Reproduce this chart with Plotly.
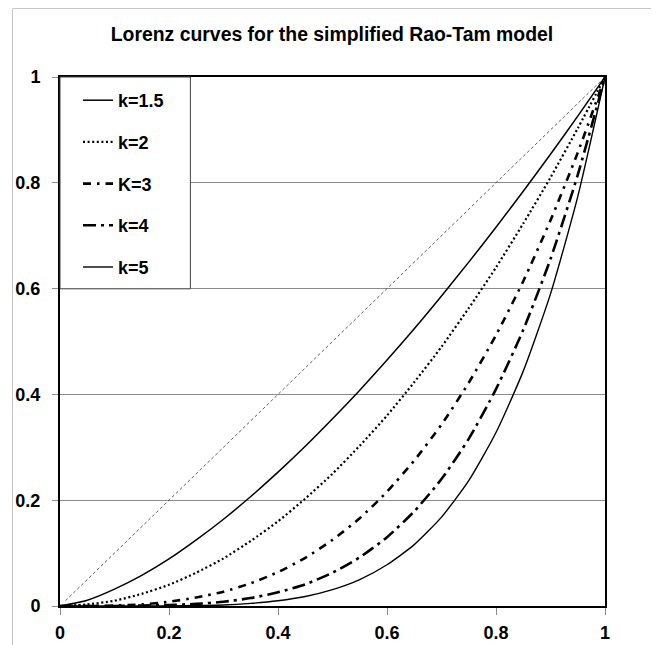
import plotly.graph_objects as go

# Share of population (x) and Lorenz curve values (y)
p = [0.0, 0.05, 0.1, 0.15, 0.2, 0.25, 0.3, 0.35, 0.4, 0.45, 0.5,
     0.55, 0.6, 0.65, 0.7, 0.75, 0.8, 0.85, 0.9, 0.95, 1.0]

k15 = [0.0, 0.011, 0.032, 0.058, 0.089, 0.125, 0.164, 0.207, 0.253, 0.302, 0.354,
       0.408, 0.465, 0.524, 0.586, 0.650, 0.716, 0.784, 0.854, 0.926, 1.0]
k2 = [0.0, 0.003, 0.010, 0.023, 0.040, 0.063, 0.090, 0.123, 0.160, 0.203, 0.250,
      0.303, 0.360, 0.423, 0.490, 0.563, 0.640, 0.723, 0.810, 0.903, 1.0]
k3 = [0.0, 0.000, 0.001, 0.003, 0.008, 0.016, 0.027, 0.043, 0.064, 0.091, 0.125,
      0.166, 0.216, 0.275, 0.343, 0.422, 0.512, 0.614, 0.729, 0.857, 1.0]
k4 = [0.0, 0.000, 0.000, 0.001, 0.002, 0.004, 0.008, 0.015, 0.026, 0.041, 0.063,
      0.092, 0.130, 0.179, 0.240, 0.316, 0.410, 0.522, 0.656, 0.815, 1.0]
k5 = [0.0, 0.000, 0.000, 0.000, 0.000, 0.001, 0.002, 0.005, 0.010, 0.018, 0.031,
      0.050, 0.078, 0.116, 0.168, 0.237, 0.328, 0.444, 0.590, 0.774, 1.0]

equality_x = [0.01, 1.0]
equality_y = [0.01, 1.0]

names = ["k=1.5", "k=2", "K=3", "k=4", "k=5"]
series = [k15, k2, k3, k4, k5]
dashes = ["solid", "2px,2.6px", "8px,6px,2.5px,6px", "13px,5px,3px,5px", "solid"]
widths = [1.5, 2.2, 2.6, 2.6, 1.4]

FONT = "Liberation Sans, Arial, sans-serif"

# the page body has an 8px margin, so the figure is drawn 8px right/down
OFF = 8
# plot area in reference pixels
L, R, T, B = 59.5, 605.0, 77.0, 606.5
PW, PH = R - L, B - T

fig = go.Figure()

fig.add_trace(go.Scatter(x=equality_x, y=equality_y, mode="lines",
                         line=dict(color="#333333", width=0.8, dash="3px,2.5px"),
                         showlegend=False, hoverinfo="skip"))

for i, (nm, ys, ds, w) in enumerate(zip(names, series, dashes, widths)):
    fig.add_trace(go.Scatter(x=p, y=ys, mode="lines", name=nm,
                             legendgroup=f"g{i}",
                             line=dict(color="black", width=w, dash=ds,
                                       shape="spline", smoothing=0.6)))

fig.update_layout(
    width=659, height=645,
    margin=dict(l=L - OFF, r=659 - R + OFF, t=T - OFF, b=645 - B + OFF, autoexpand=False),
    paper_bgcolor="white", plot_bgcolor="white",
    title=dict(text="Lorenz curves for the simplified Rao-Tam model",
               x=(332 - OFF) / 659, xanchor="center",
               y=1 - (34 - OFF) / 645, yanchor="middle",
               font=dict(family=FONT, size=19.4, color="black", weight="bold")),
    font=dict(family=FONT, color="black"),
    legend=dict(x=0, y=1 - 5 / PH, xanchor="left", yanchor="top",
                bgcolor="rgba(0,0,0,0)", borderwidth=0,
                font=dict(family=FONT, size=18, color="black", weight="bold"),
                tracegroupgap=15.3, indentation=18, itemwidth=30),
    showlegend=True,
)

fig.update_xaxes(range=[0, 1], dtick=0.2, tick0=0, showgrid=False, zeroline=False,
                 automargin=False,
                 showline=True, mirror=True, linecolor="black", linewidth=2,
                 ticks="outside", ticklen=7, tickcolor="#8c8c8c", tickwidth=1,
                 ticklabelstandoff=2,
                 tickfont=dict(family=FONT, size=18, color="black", weight="bold"))
fig.update_yaxes(range=[0, 1], dtick=0.2, tick0=0, showgrid=True, gridcolor="#8c8c8c",
                 gridwidth=1, zeroline=False, automargin=False,
                 showline=True, mirror=True, linecolor="black", linewidth=2,
                 ticks="outside", ticklen=6, tickcolor="#8c8c8c", tickwidth=1,
                 ticklabelstandoff=8,
                 tickfont=dict(family=FONT, size=18, color="black", weight="bold"))

# outer chart frame (extends past the bottom-right of the page)
fig.add_shape(type="rect", xref="paper", yref="paper",
              x0=(12 - L) / PW, x1=1.3, y0=-0.3, y1=(B - 8.5) / PH,
              line=dict(color="#c4c4c4", width=1), layer="below")

# legend box (white, drawn over the plot border)
fig.add_shape(type="rect", xref="paper", yref="paper",
              x0=0, x1=(190 - L) / PW, y0=(B - 289) / PH, y1=1,
              line=dict(color="#404040", width=1), fillcolor="white", layer="above")

fig.write_html("out.html")
